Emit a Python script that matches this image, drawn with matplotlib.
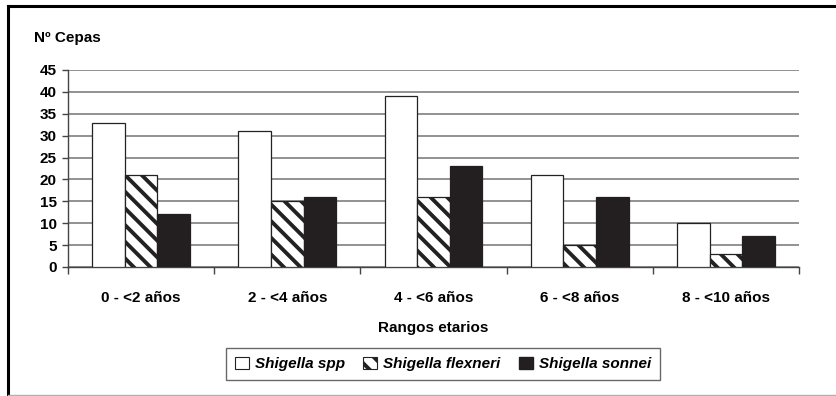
import numpy as np
import matplotlib.pyplot as plt
from matplotlib.lines import Line2D
from matplotlib.patches import Patch

plt.rcParams['font.family'] = ['Liberation Sans', 'DejaVu Sans']
plt.rcParams['hatch.linewidth'] = 2.8

categories = ["0 - <2 años", "2 - <4 años", "4 - <6 años", "6 - <8 años", "8 - <10 años"]
spp = [33, 31, 39, 21, 10]
flexneri = [21, 15, 16, 5, 3]
sonnei = [12, 16, 23, 16, 7]
series_names = ["Shigella spp", "Shigella flexneri", "Shigella sonnei"]

W, H = 837, 396
fig = plt.figure(figsize=(W / 100, H / 100), dpi=100)
ax = fig.add_axes([68 / W, 1 - 267 / H, (799 - 68) / W, (267 - 70) / H])

x = np.arange(len(categories))
bw = 0.223
ax.bar(x - bw, spp, bw, color="white", edgecolor="#222", linewidth=0.9, zorder=3)
ax.bar(x, flexneri, bw, color="white", edgecolor="#222", hatch="\\\\", linewidth=0.9, zorder=3)
ax.bar(x + bw, sonnei, bw, color="#231f20", edgecolor="#231f20", linewidth=0.9, zorder=3)

ax.set_xlim(-0.5, len(categories) - 0.5)
ax.set_ylim(0, 45)
ax.set_yticks(np.arange(0, 46, 5))
ax.yaxis.grid(True, color="#7f7f7f", linewidth=1.2, zorder=0)
ax.set_axisbelow(True)

ax.set_xticks(x)
ax.set_xticklabels(categories, fontsize=11, fontweight="bold")
ax.set_xticks(np.arange(-0.5, len(categories)), minor=True)
ax.tick_params(axis="x", which="major", length=0, pad=17)
ax.tick_params(axis="x", which="minor", length=5, width=1, color="#444")
ax.tick_params(axis="y", length=4, width=1, color="#444", labelsize=11, pad=4)
for lab in ax.get_yticklabels():
    lab.set_fontweight("bold")

for s in ["top", "right"]:
    ax.spines[s].set_visible(False)
for s in ["left", "bottom"]:
    ax.spines[s].set_color("#444")
    ax.spines[s].set_linewidth(1)

ax.set_xlabel("Rangos etarios", fontsize=11, fontweight="bold", labelpad=12)
fig.text(34 / W, 1 - 38 / H, "Nº Cepas", fontsize=11, fontweight="bold", va="center", ha="left")

handles = [
    Patch(facecolor="white", edgecolor="#222", linewidth=0.8),
    Patch(facecolor="white", edgecolor="#222", hatch="\\\\", linewidth=0.8),
    Patch(facecolor="#231f20", edgecolor="#231f20"),
]
leg = fig.legend(handles, series_names, loc="center", bbox_to_anchor=(443 / W, 1 - 364 / H),
                 ncol=3, frameon=True, fancybox=False, edgecolor="#444",
                 prop={"style": "italic", "weight": "bold", "size": 11},
                 handlelength=0.9, handleheight=0.9, handletextpad=0.4, columnspacing=1.2,
                 borderpad=0.6)
leg.get_frame().set_linewidth(1)

# outer frame of the figure
fig.add_artist(Line2D([8 / W, 8 / W], [1 - 6 / H, 1 - 395 / H], color="black", linewidth=2.2))
fig.add_artist(Line2D([8 / W, 1], [1 - 6 / H, 1 - 6 / H], color="black", linewidth=2.2))
fig.add_artist(Line2D([8 / W, 1], [1 - 395 / H, 1 - 395 / H], color="#b0b0b0", linewidth=1))

fig.savefig("out.png", dpi=100)
